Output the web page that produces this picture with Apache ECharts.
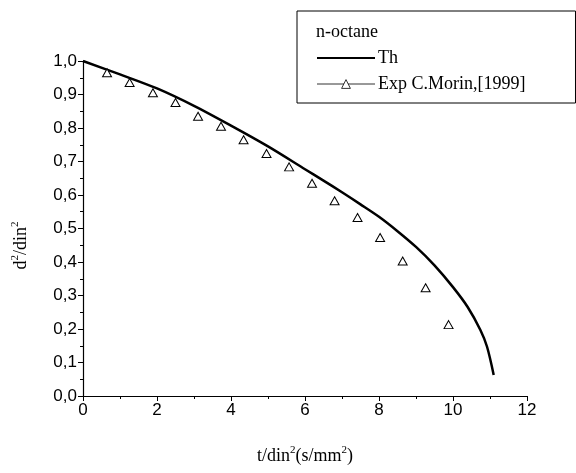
<!DOCTYPE html>
<html>
<head>
<meta charset="utf-8">
<script src="https://cdn.jsdelivr.net/npm/echarts@6/dist/echarts.min.js"></script>
<style>
  html, body { margin: 0; padding: 0; background: #fff; }
  #chart { width: 576px; height: 473px; }
</style>
</head>
<body>
<div id="chart"></div>
<script>
// theoretical curve (Th)
const thX = [0, 1, 2, 3, 4, 5, 6, 6.5, 7, 7.5, 8, 8.5, 9, 9.5, 10, 10.4, 10.74, 10.92, 11.1]
const thY = [1.0, 0.96, 0.918, 0.866, 0.807, 0.745, 0.677, 0.643, 0.608, 0.572, 0.535, 0.492, 0.445, 0.39, 0.325, 0.265, 0.197, 0.147, 0.063]

// experimental points, C.Morin 1999
const expX = [0.65, 1.26, 1.89, 2.5, 3.11, 3.73, 4.34, 4.96, 5.57, 6.19, 6.8, 7.42, 8.03, 8.64, 9.26, 9.88]
const expY = [0.965, 0.936, 0.905, 0.876, 0.835, 0.805, 0.765, 0.724, 0.684, 0.635, 0.583, 0.533, 0.473, 0.403, 0.323, 0.213]

const xTicks = [0, 2, 4, 6, 8, 10, 12]
const yTicks = [0, 0.1, 0.2, 0.3, 0.4, 0.5, 0.6, 0.7, 0.8, 0.9, 1.0]

const SERIF = '"Liberation Serif", "Times New Roman", serif'
const SANS = '"Liberation Sans", Arial, sans-serif'

const chart = echarts.init(document.getElementById('chart'), null, { renderer: 'canvas' })

const zip = (xs, ys) => xs.map((x, i) => [x, ys[i]])

const supRich = {
  a: { fontFamily: SERIF, fontSize: 18, color: '#000', lineHeight: 22 },
  s: { fontFamily: SERIF, fontSize: 11, color: '#000', verticalAlign: 'top', lineHeight: 22, padding: [0, 0, 8, 0] }
}

chart.setOption({
  animation: false,
  title: {
    text: 'n-octane',
    left: 316,
    top: 23,
    textStyle: { fontFamily: SERIF, fontSize: 18, fontWeight: 'normal', color: '#000' },
    padding: 0
  },
  legend: {
    left: 297,
    top: 11,
    orient: 'vertical',
    padding: [38, 50, 10, 19],
    itemGap: 8,
    itemWidth: 58,
    itemHeight: 11,
    borderColor: '#000',
    borderWidth: 1,
    textStyle: { fontFamily: SERIF, fontSize: 18, color: '#000', padding: [0, 0, 0, -2] },
    data: [
      { name: 'Th', itemStyle: { opacity: 0 } },
      {
        name: 'Exp C.Morin,[1999]',
        lineStyle: { opacity: 1, width: 1, color: '#333' },
        itemStyle: { color: '#fff', borderColor: '#000', borderWidth: 0.8 }
      }
    ]
  },
  grid: { left: 83, right: 49, top: 61, bottom: 77, outerBoundsMode: 'none' },
  xAxis: {
    type: 'value',
    min: xTicks[0],
    max: xTicks[xTicks.length - 1],
    interval: 2,
    name: '{a|t/din}{s|2}{a|(s/mm}{s|2}{a|)}',
    nameLocation: 'middle',
    nameGap: 49,
    nameTextStyle: { rich: supRich },
    axisLine: { lineStyle: { color: '#000', width: 1.2 } },
    axisTick: { length: 5, lineStyle: { color: '#000' } },
    minorTick: { show: true, splitNumber: 2, length: 3, lineStyle: { color: '#000' } },
    splitLine: { show: false },
    axisLabel: { fontFamily: SANS, fontSize: 17, color: '#000', margin: 6 }
  },
  yAxis: {
    type: 'value',
    min: yTicks[0],
    max: yTicks[yTicks.length - 1],
    interval: 0.1,
    name: '{a|d}{s|2}{a|/din}{s|2}',
    nameLocation: 'middle',
    nameRotate: 90,
    nameGap: 51,
    nameTextStyle: { rich: supRich, padding: [0, 34, 0, 0] },
    axisLine: { show: true, lineStyle: { color: '#000', width: 1.2 } },
    axisTick: { show: true, length: 5, lineStyle: { color: '#000' } },
    minorTick: { show: true, splitNumber: 2, length: 3, lineStyle: { color: '#000' } },
    splitLine: { show: false },
    axisLabel: {
      fontFamily: SANS, fontSize: 17, color: '#000', margin: 6,
      formatter: v => v.toFixed(1).replace('.', ',')
    }
  },
  series: [
    {
      name: 'Th',
      type: 'line',
      data: zip(thX, thY),
      showSymbol: false,
      symbol: 'none',
      smooth: 0.3,
      lineStyle: { color: '#000', width: 2.5 },
      itemStyle: { color: '#000' }
    },
    {
      name: 'Exp C.Morin,[1999]',
      type: 'line',
      data: zip(expX, expY),
      symbol: 'triangle',
      symbolSize: [9, 8],
      lineStyle: { opacity: 0, color: '#000', width: 1 },
      itemStyle: { color: '#fff', borderColor: '#000', borderWidth: 1 }
    }
  ]
})
</script>
</body>
</html>
